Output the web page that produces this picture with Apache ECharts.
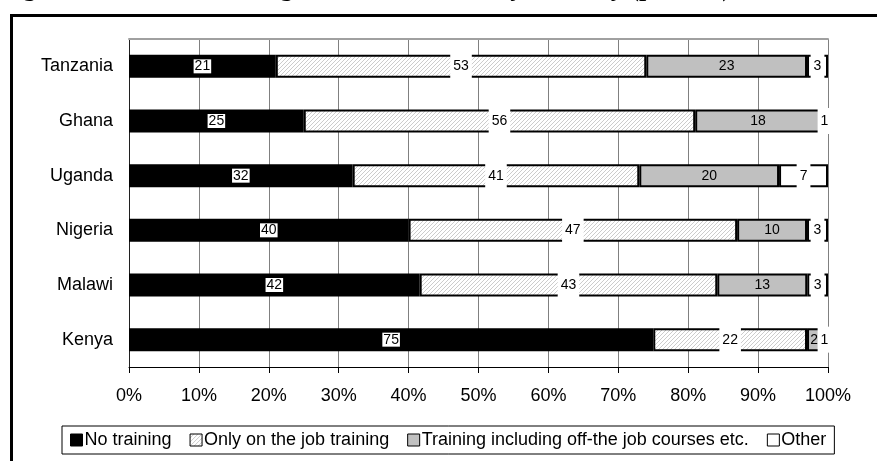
<!DOCTYPE html>
<html>
<head>
<meta charset="utf-8">
<script src="https://cdn.jsdelivr.net/npm/echarts@6/dist/echarts.min.js"></script>
<style>
html,body{margin:0;padding:0;background:#fff;}
#chart{width:877px;height:461px;}
</style>
</head>
<body>
<div id="chart"></div>
<script>
var countries = ['Tanzania', 'Ghana', 'Uganda', 'Nigeria', 'Malawi', 'Kenya'];
var noTraining = [21, 25, 32, 40, 42, 75];
var onTheJob = [53, 56, 41, 47, 43, 22];
var offTheJob = [23, 18, 20, 10, 13, 2];
var other = [3, 1, 7, 3, 3, 1];
var seriesNames = ['No training', 'Only on the job training', 'Training including off-the job courses etc.', 'Other'];
var xTicks = [0, 10, 20, 30, 40, 50, 60, 70, 80, 90, 100];
var titleText = 'Figure 6: Formal Training after Graduation by Country (percent)';

var raw = [noTraining, onTheJob, offTheJob, other];
var totals = countries.map(function (c, i) {
  return raw.reduce(function (s, arr) { return s + arr[i]; }, 0);
});
function share(arr) {
  return arr.map(function (v, i) { return { value: v / totals[i] * 100, raw: v }; });
}

// hatch pattern
var pc = document.createElement('canvas');
pc.width = 4; pc.height = 4;
var g = pc.getContext('2d');
g.fillStyle = '#ffffff'; g.fillRect(0, 0, 4, 4);
g.strokeStyle = '#cccccc'; g.lineWidth = 1;
g.beginPath();
g.moveTo(-1, 5); g.lineTo(5, -1);
g.moveTo(-1, 1); g.lineTo(1, -1);
g.moveTo(3, 5); g.lineTo(5, 3);
g.stroke();
var hatch = { image: pc, repeat: 'repeat' };

var FONT = "'Liberation Sans', Arial, sans-serif";
var fills = ['#000000', hatch, '#c0c0c0', '#ffffff'];
var labelBg = ['#ffffff', '#ffffff', 'transparent', '#ffffff'];
var labelPad = [[0, 1], [6, 3], [0, 0], [6, 3]];

var series = raw.map(function (arr, k) {
  return {
    name: seriesNames[k],
    type: 'bar',
    stack: 'total',
    barWidth: 23,
    data: share(arr),
    itemStyle: { color: fills[k], borderColor: '#000', borderWidth: 2 },
    label: {
      show: true,
      position: 'inside',
      color: '#000',
      fontFamily: FONT,
      fontSize: 14,
      backgroundColor: labelBg[k],
      padding: labelPad[k],
      formatter: function (p) { return String(p.data.raw); }
    },
    emphasis: { disabled: true }
  };
});

var chart = echarts.init(document.getElementById('chart'), null, { renderer: 'canvas' });
chart.setOption({
  animation: false,
  backgroundColor: '#ffffff',
  textStyle: { fontFamily: FONT },
  grid: { left: 129, right: 49, top: 39, bottom: 94, containLabel: false },
  xAxis: [{
    type: 'value', min: 0, max: 100, interval: 10,
    axisLine: { show: true, lineStyle: { color: '#000', width: 1 } },
    axisTick: { show: true, length: 6, lineStyle: { color: '#000' } },
    axisLabel: {
      color: '#000', fontSize: 18, fontFamily: FONT, margin: 20,
      formatter: function (v) { return xTicks.indexOf(v) >= 0 ? v + '%' : ''; }
    },
    splitLine: { show: true, lineStyle: { color: '#808080', width: 1 } }
  }, {
    type: 'value', min: 0, max: 100, position: 'top',
    axisLine: { show: true, lineStyle: { color: '#a0a0a0', width: 2 } },
    axisTick: { show: false }, axisLabel: { show: false }, splitLine: { show: false }
  }],
  yAxis: {
    type: 'category', data: countries, inverse: true,
    axisLine: { show: true, lineStyle: { color: '#202020', width: 1 } },
    axisTick: { show: false },
    axisLabel: { color: '#000', fontSize: 18, fontFamily: FONT, margin: 16 }
  },
  legend: {
    data: seriesNames,
    top: 426, left: 62,
    icon: 'rect', itemWidth: 12, itemHeight: 12, itemGap: 18,
    padding: [5, 8],
    borderColor: '#000', borderWidth: 1,
    itemStyle: { borderWidth: 1, borderColor: '#000' },
    textStyle: { color: '#000', fontSize: 18, fontFamily: FONT, padding: [0, 0, 0, -3] },
    selectedMode: false
  },
  graphic: [{
    type: 'rect', silent: true,
    shape: { x: 11.5, y: 15.5, width: 900, height: 500 },
    style: { fill: 'none', stroke: '#000', lineWidth: 3 }
  }, {
    type: 'text', silent: true, left: 0, top: -24,
    style: {
      text: titleText, fill: '#000',
      font: "bold 26px 'Liberation Serif', 'Times New Roman', serif"
    }
  }],
  series: series
});
</script>
</body>
</html>
